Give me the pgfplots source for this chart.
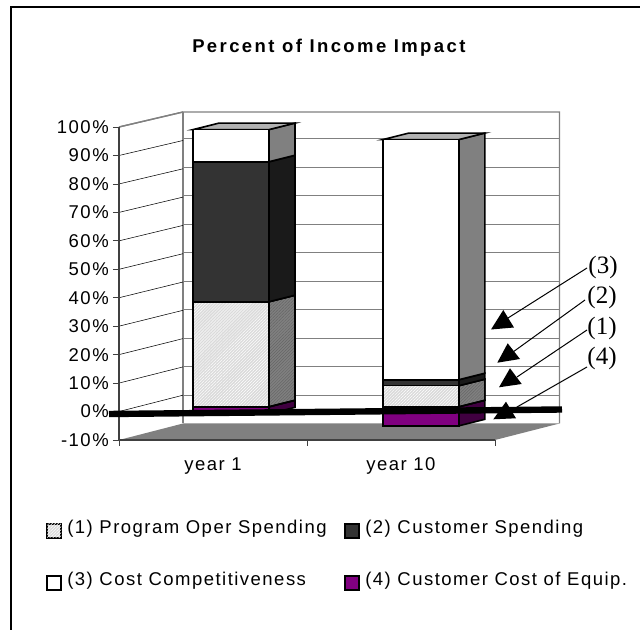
\documentclass[border=0pt]{standalone}
\usepackage{pgfplots}
\pgfplotsset{compat=1.18}
\usepackage{fontspec}
\usetikzlibrary{patterns.meta}
\setmainfont{Liberation Sans}
\newfontfamily\labelfont[LetterSpace=8]{Liberation Sans}
\newfontfamily\titlefont[LetterSpace=13]{Liberation Sans}
\newfontfamily\calloutfont{Liberation Serif}
\definecolor{wallgrey}{HTML}{808080}
\definecolor{dither}{HTML}{DADADA}
\definecolor{darkfront}{HTML}{333333}
\definecolor{darkside}{HTML}{1A1A1A}
\definecolor{purplefront}{HTML}{800080}
\definecolor{purpleside}{HTML}{400040}
\newcommand{\smallsize}{\fontsize{13.875}{13.875}\selectfont}
\newcommand{\calloutsize}{\fontsize{18.75}{18.75}\selectfont}
% Share of income by component; the stacked values run upward from zero.
\pgfplotstableread{
x      oper  cust  comp
0.495  36.9  49.2  11.3
1.505  7.4   2.1   84.4
}\stacktable
\pgfplotstableread{
x      equip
0.495  -2.5
1.505  -6.7
}\equiptable
\tikzset{
  dithered/.style={fill=dither, postaction={pattern={Lines[angle=45,distance=1.6pt,line width=.35pt]}, pattern color=white}},
  ditheredside/.style={fill=wallgrey, postaction={pattern={Lines[angle=45,distance=1.6pt,line width=.35pt]}, pattern color=black!60}},
  edge/.style={draw=black,line width=1.2pt},
}
\pgfplotsset{
  plane/.style={
    scale only axis, width=282pt, height=234.75pt,
    xmin=0, xmax=2, ymin=-10, ymax=100,
    anchor=south west, clip=false,
  },
}
\begin{document}
\begin{tikzpicture}[x=.75pt,y=-.75pt,line join=miter]
\path[use as bounding box] (0,0) rectangle (640,630);
\fill[white] (0,0) rectangle (640,630);
% chart frame, open on the right and at the bottom
\draw[black,line width=1.5pt] (10.5,630) -- (10.5,7) -- (640,7);

\coordinate (front) at (119,440);
\coordinate (back) at (183,423.5);
\coordinate (bars) at (138,435.2);

% floor
\fill[wallgrey] (119,440) -- (183,423.5) -- (559.5,423.5) -- (495,440) -- cycle;

% back wall with its gridlines
\begin{axis}[plane, at={(back)}, axis lines=none]
  \pgfplotsinvokeforeach{0,10,...,90}{
    \addplot[wallgrey,line width=.8pt,forget plot] coordinates {(0,#1) (2,#1)};
  }
\end{axis}
\draw[wallgrey,line width=1pt] (119,127) -- (183,112) -- (559.5,112) -- (559.5,423.5);
\draw[wallgrey,line width=1pt] (183,112) -- (183,423.5);

% side wall lines, front tick to back wall
\foreach \k in {1,...,10}{
  \draw[black,line width=.4pt] (119,{440-28.45*\k}) -- (183,{423.5-28.3*\k});
}
\draw[wallgrey,line width=1pt] (119,127) -- (183,112);

% front plane: value axis and categories
\begin{axis}[plane, at={(front)},
  axis x line=bottom, axis y line=left,
  axis line style={-,draw=black!75,line width=.8pt},
  tick style={draw=black!75,line width=.6pt},
  xtick={0,1,2}, xticklabels={}, major tick length=4.5pt,
  ytick={-10,0,...,100}, yticklabel={\pgfmathprintnumber{\tick}\%},
  /pgf/number format/assume math mode=true,
  yticklabel style={font=\smallsize\labelfont,inner sep=0pt,xshift=-3pt},
  tick align=outside,
  extra x ticks={0.5,1.5},
  extra x tick labels={year 1,year 10},
  extra x tick style={major tick length=0pt,
    xticklabel style={font=\smallsize\labelfont,yshift=-10pt}},
]
\end{axis}

% side and top faces of the columns, on a plane set back from the front
\begin{axis}[plane, at={(bars)}, axis lines=none]
  \addplot[edge,fill=purpleside,forget plot] coordinates
    {(0.697,0) (0.835,2.28) (0.835,-0.22) (0.697,-2.5)} --cycle;
  \addplot[edge,fill=purpleside,forget plot] coordinates
    {(1.707,0) (1.845,2.28) (1.845,-4.42) (1.707,-6.7)} --cycle;
  \addplot[edge,ditheredside,forget plot] coordinates
    {(0.697,0) (0.835,2.28) (0.835,39.18) (0.697,36.9)} --cycle;
  \addplot[edge,fill=darkside,forget plot] coordinates
    {(0.697,36.9) (0.835,39.18) (0.835,88.38) (0.697,86.1)} --cycle;
  \addplot[edge,fill=wallgrey,forget plot] coordinates
    {(0.697,86.1) (0.835,88.38) (0.835,99.68) (0.697,97.4)} --cycle;
  \addplot[edge,fill=black!30,forget plot] coordinates
    {(0.293,97.4) (0.431,99.68) (0.835,99.68) (0.697,97.4)} --cycle;
  \addplot[edge,ditheredside,forget plot] coordinates
    {(1.707,0) (1.845,2.28) (1.845,9.68) (1.707,7.4)} --cycle;
  \addplot[edge,fill=darkside,forget plot] coordinates
    {(1.707,7.4) (1.845,9.68) (1.845,11.78) (1.707,9.5)} --cycle;
  \addplot[edge,fill=wallgrey,forget plot] coordinates
    {(1.707,9.5) (1.845,11.78) (1.845,96.18) (1.707,93.9)} --cycle;
  \addplot[edge,fill=black!30,forget plot] coordinates
    {(1.303,93.9) (1.441,96.18) (1.845,96.18) (1.707,93.9)} --cycle;
\end{axis}
% front faces
\begin{axis}[plane, at={(bars)}, axis lines=none, ybar, bar width=57pt, bar shift=0pt]
  \addplot[edge,fill=purplefront] table[x=x,y=equip] {\equiptable};
\end{axis}
\begin{axis}[plane, at={(bars)}, axis lines=none, ybar stacked, bar width=57pt,
  bar shift=0pt]
  \addplot[edge,dithered] table[x=x,y=oper] {\stacktable};
  \addplot[edge,fill=darkfront] table[x=x,y=cust] {\stacktable};
  \addplot[edge,fill=white] table[x=x,y=comp] {\stacktable};
\end{axis}

% thick baseline laid across the columns
\draw[black,line width=4.8pt] (109,414) -- (562,409.5);

% callouts
\draw[black,line width=.75pt] (587,268) -- (508,318);
\draw[black,line width=.75pt] (585,300) -- (513,352);
\draw[black,line width=.75pt] (587,330) -- (517,377);
\draw[black,line width=.75pt] (587,367) -- (517,407);
\fill[black] (503.3,310) -- (491,329.5) -- (514,327.5) -- cycle;
\fill[black] (507.7,343.3) -- (497.3,362.7) -- (520,359) -- cycle;
\fill[black] (510,368.3) -- (499,387.3) -- (521.7,384) -- cycle;
\fill[black] (506,401.7) -- (493.3,419.3) -- (516,418.3) -- cycle;
\node[font=\calloutsize\calloutfont,inner sep=0pt] at (603,267) {(3)};
\node[font=\calloutsize\calloutfont,inner sep=0pt] at (602,297) {(2)};
\node[font=\calloutsize\calloutfont,inner sep=0pt] at (602,328) {(1)};
\node[font=\calloutsize\calloutfont,inner sep=0pt] at (602,358) {(4)};

% title
\node[font=\smallsize\titlefont\bfseries,inner sep=0pt,anchor=base west] at (192,52.7) {Percent of Income Impact};

% legend
\draw[black,line width=1.1pt,dithered] (47,524) rectangle (61,538);
\draw[black,line width=1.1pt,fill=darkfront] (345,524) rectangle (359,538);
\draw[black,line width=1.1pt,fill=white] (47,576) rectangle (61,590);
\draw[black,line width=1.1pt,fill=purplefront] (345,576) rectangle (359,590);
\node[font=\smallsize\labelfont,inner sep=0pt,anchor=base west] at (67,534) {(1) Program Oper Spending};
\node[font=\smallsize\labelfont,inner sep=0pt,anchor=base west] at (365,534) {(2) Customer Spending};
\node[font=\smallsize\labelfont,inner sep=0pt,anchor=base west] at (67,586) {(3) Cost Competitiveness};
\node[font=\smallsize\labelfont,inner sep=0pt,anchor=base west] at (365,586) {(4) Customer Cost of Equip.};
\end{tikzpicture}
\end{document}
